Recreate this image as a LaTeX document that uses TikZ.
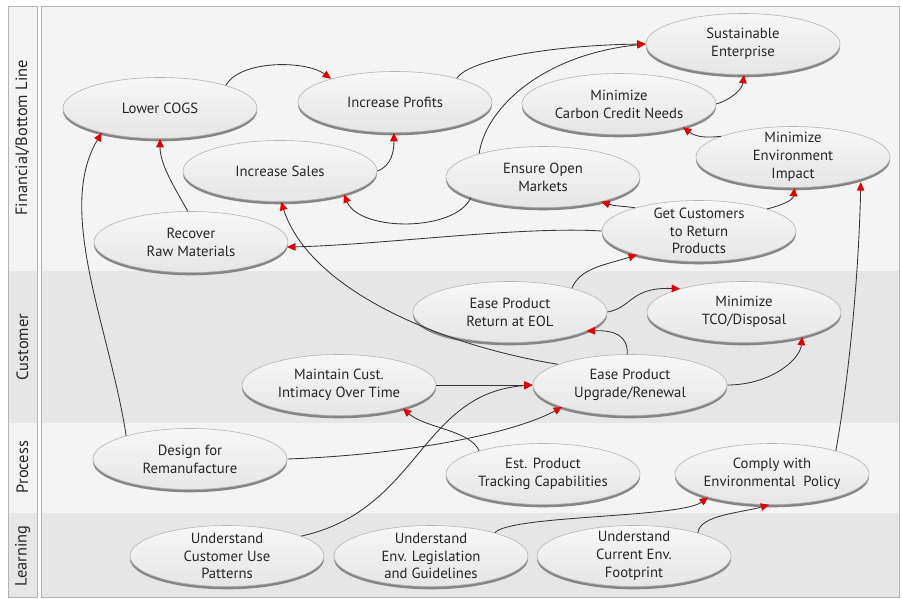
\documentclass[tikz,border=0pt]{standalone}
\usepackage{fontspec}
\setmainfont{PT Sans}
\usetikzlibrary{shapes.geometric,arrows.meta,shadows}
\definecolor{bandA}{HTML}{F4F4F4}
\definecolor{bandB}{HTML}{E6E6E6}
\definecolor{frame}{HTML}{B4B4B4}
\definecolor{ink}{HTML}{262626}
\definecolor{edge}{HTML}{363636}
\definecolor{tipred}{HTML}{E00000}
\begin{document}
\begin{tikzpicture}[x=1pt,y=-1pt,
  ell/.style={ellipse, minimum width=194pt, minimum height=61pt, inner sep=0pt,
    draw=frame, line width=0.6pt, top color=white!97!black, bottom color=white!90!black,
    drop shadow={shadow xshift=0pt, shadow yshift=-2.8pt, fill=black!48, opacity=1}},
  txt/.style={align=center, text=ink, font=\fontsize{14.7}{17.8}\selectfont, inner sep=0pt},
  lane/.style={rotate=90, text=ink, font=\fontsize{16.4}{19}\selectfont, inner sep=0pt},
  conn/.style={draw=edge, line width=0.85pt, -{Triangle[length=8.5pt,width=7.5pt,color=tipred]}},
]
\useasboundingbox (0,0) rectangle (902,599);
\fill[white] (0,0) rectangle (902,599);
% bands
\fill[bandA] (8.5,6) rectangle (37,271);
\fill[bandB] (8.5,271) rectangle (37,423);
\fill[bandA] (8.5,423) rectangle (37,513);
\fill[bandB] (8.5,513) rectangle (37,597);
\fill[bandA] (41,6) rectangle (899,271);
\fill[bandB] (41,271) rectangle (899,423);
\fill[bandA] (41,423) rectangle (899,513);
\fill[bandB] (41,513) rectangle (899,597);
\draw[frame, line width=0.8pt] (8.5,6) rectangle (37,597);
\draw[frame, line width=0.8pt] (41,6) rectangle (899,597);
% lane labels
\node[lane] (lfin) at (22.5,138) {Financial/Bottom Line};
\node[lane] (lcus) at (22.5,347) {Customer};
\node[lane] (lpro) at (22.5,467) {Process};
\node[lane] (llea) at (22.5,556) {Learning};
% ellipses
\node[ell] (lcogs) at (160,108) {};
\node[txt] (lcogs-t) at (lcogs) {Lower COGS};
\node[ell] (iprof) at (395,102) {};
\node[txt] (iprof-t) at (iprof) {Increase Profits};
\node[ell] (isales) at (280,171) {};
\node[txt] (isales-t) at (isales) {Increase Sales};
\node[ell] (recover) at (191,242) {};
\node[txt] (recover-t) at (recover) {Recover\\Raw Materials};
\node[ell] (sust) at (743,44) {};
\node[txt] (sust-t) at (sust) {Sustainable\\Enterprise};
\node[ell] (mcc) at (619,104) {};
\node[txt] (mcc-t) at (mcc) {Minimize\\Carbon Credit Needs};
\node[ell] (mei) at (793,157) {};
\node[txt] (mei-t) at (mei) {Minimize\\Environment\\Impact};
\node[ell] (eom) at (543,177) {};
\node[txt] (eom-t) at (eom) {Ensure Open\\Markets};
\node[ell] (gc) at (699,231) {};
\node[txt] (gc-t) at (gc) {Get Customers\\to Return\\Products};
\node[ell] (eol) at (510,312) {};
\node[txt] (eol-t) at (eol) {Ease Product\\Return at EOL};
\node[ell] (tco) at (744,312) {};
\node[txt] (tco-t) at (tco) {Minimize\\TCO/Disposal};
\node[ell] (mci) at (339,385) {};
\node[txt] (mci-t) at (mci) {Maintain Cust.\\Intimacy Over Time};
\node[ell] (upg) at (630,385) {};
\node[txt] (upg-t) at (upg) {Ease Product\\Upgrade/Renewal};
\node[ell] (design) at (190,459) {};
\node[txt] (design-t) at (design) {Design for\\Remanufacture};
\node[ell] (est) at (543,474) {};
\node[txt] (est-t) at (est) {Est. Product\\Tracking Capabilities};
\node[ell] (comply) at (772,474) {};
\node[txt] (comply-t) at (comply) {Comply with\\Environmental\ \ Policy};
\node[ell] (ucu) at (227,556) {};
\node[txt] (ucu-t) at (ucu) {Understand\\Customer Use\\Patterns};
\node[ell] (uel) at (431,556) {};
\node[txt] (uel-t) at (uel) {Understand\\Env. Legislation\\and Guidelines};
\node[ell] (ucef) at (634,556) {};
\node[txt] (ucef-t) at (ucef) {Understand\\Current Env.\\Footprint};
% connectors
\draw[conn] (lcogs.19) .. controls (240,60) and (305,60) .. (iprof.160);
\draw[conn] (isales.0) .. controls (392,166) and (394,150) .. (iprof.268);
\draw[conn] (recover.96) .. controls (176,190) and (160,165) .. (lcogs.270);
\draw[conn] (design.160) .. controls (110,330) and (55,210) .. (lcogs.203);
\draw[conn] (iprof.21) .. controls (470,58) and (560,45) .. (sust.180);
\draw[conn] (eom.160) .. controls (485,110) and (540,55) .. (sust.180);
\draw[conn] (eom.196) .. controls (455,232) and (360,232) .. (isales.340);
\draw[conn] (mcc.0) .. controls (730,100) and (742,90) .. (sust.272);
\draw[conn] (mei.164) .. controls (706,138) and (696,137) .. (mcc.340);
\draw[conn] (gc.160) .. controls (622,206) and (614,206) .. (eom.337);
\draw[conn] (gc.18) .. controls (783,205) and (793,200) .. (mei.273);
\draw[conn] (gc.180) .. controls (520,226) and (380,245) .. (recover.357);
\draw[conn] (eol.21) .. controls (580,268) and (605,265) .. (gc.201);
\draw[conn] (eol.0) .. controls (632,308) and (630,287) .. (tco.160);
\draw[conn] (upg.95) .. controls (628,336) and (615,330) .. (eol.346);
\draw[conn] (upg.0) .. controls (770,385) and (800,360) .. (tco.337);
\draw[conn] (upg.164) .. controls (440,345) and (310,290) .. (isales.272);
\draw[conn] (mci.0) -- (upg.180);
\draw[conn] (est.160) .. controls (470,430) and (425,428) .. (mci.340);
\draw[conn] (design.0) .. controls (400,455) and (510,435) .. (upg.198);
\draw[conn] (ucu.15) .. controls (420,510) and (420,393) .. (upg.180);
\draw[conn] (uel.20) .. controls (510,515) and (680,518) .. (comply.200);
\draw[conn] (ucef.20) .. controls (700,515) and (740,513) .. (comply.265);
\draw[conn, shorten >=3pt] (comply.20) .. controls (845,400) and (858,300) .. (mei.342);
\end{tikzpicture}
\end{document}
